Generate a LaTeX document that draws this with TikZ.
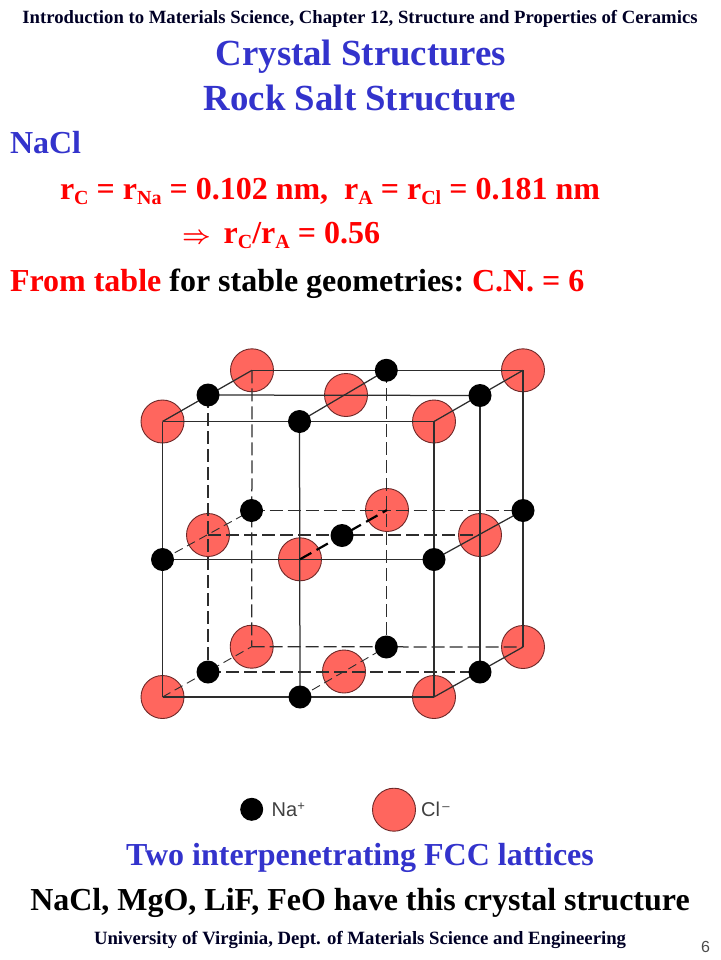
\documentclass[tikz,border=0pt]{standalone}
\usepackage{fontspec}
\setmainfont{Liberation Serif}
\newfontfamily\legendfont{Liberation Sans}
\pgfdeclarelayer{paper}
\pgfdeclarelayer{atomsback}
\pgfdeclarelayer{atomsfront}
\pgfsetlayers{paper,atomsback,main,atomsfront}
\definecolor{ttblue}{RGB}{51,51,204}
\definecolor{ttred}{RGB}{255,0,0}
\definecolor{clfill}{RGB}{255,102,94}
\definecolor{cledge}{RGB}{110,40,40}
\definecolor{bond}{RGB}{45,45,45}
\newcommand{\fs}[1]{\fontsize{#1}{#1}\selectfont\bfseries}
\newcommand{\sbs}[1]{\raisebox{-5.5pt}{\fontsize{20}{20}\selectfont #1}}
\tikzset{
  cl/.style={circle,draw=cledge,line width=0.9pt,fill=clfill,minimum size=43pt,inner sep=0pt},
  na/.style={circle,fill=black,minimum size=23pt,inner sep=0pt},
  solidbond/.style={bond,line width=1.25pt},
  dashbond/.style={bond,line width=1.25pt,dash pattern=on 13pt off 5pt},
  thinbond/.style={bond,line width=0.9pt,dash pattern=on 9pt off 5pt},
  heavybond/.style={black,line width=2.2pt,dash pattern=on 13pt off 6pt},
  txt/.style={anchor=base west,inner sep=0pt,outer sep=0pt},
  ctxt/.style={anchor=base,inner sep=0pt,outer sep=0pt},
  lgd/.style={anchor=base west,inner sep=0pt,font=\legendfont\fontsize{20}{20}\selectfont,text=black!75}
}
\begin{document}
\begin{tikzpicture}[x=1pt,y=-1pt]
\useasboundingbox (0,0) rectangle (720,960);
\begin{pgfonlayer}{paper}
\fill[white] (0,0) rectangle (720,960);
\end{pgfonlayer}
% texts
\node[ctxt,text=black!85!blue] (hd) at (360,24) {\fs{18.7}Introduction to Materials Science, Chapter 12, Structure and Properties of Ceramics};
\node[ctxt,text=ttblue] (t1) at (361,66) {\fs{36.8}Crystal Structures};
\node[ctxt,text=ttblue] (t2) at (360,111) {\fs{36.8}Rock Salt Structure};
\node[txt,text=ttblue] (l1) at (10,154) {\fs{32}NaCl};
\node[txt,text=ttred] (l2) at (60,199) {\fs{32}r\sbs{C} = r\sbs{Na} = 0.102 nm,\ \ r\sbs{A} = r\sbs{Cl} = 0.181 nm};
\node[txt,text=ttred] (l3) at (182,243) {\fs{32}{\fontsize{27}{27}\selectfont\mathversion{bold}$\Rightarrow$}\hspace{5pt} r\sbs{C}/r\sbs{A} = 0.56};
\node[txt] (l4) at (10,291) {\fs{32}\textcolor{ttred}{From table} for stable geometries:\hspace{-3pt} \textcolor{ttred}{C.N. = 6}};
\node[ctxt,text=ttblue] (b1) at (360,865) {\fs{32}Two interpenetrating FCC lattices};
\node[ctxt,text=black] (b2) at (360,910) {\fs{32}NaCl, MgO, LiF, FeO have this crystal structure};
\node[txt,text=black!85!blue] (b3) at (94,944) {\fs{18.75}University of Virginia, Dept. of Materials Science and Engineering};
\node[txt,text=black!70] (pg) at (701,952) {\legendfont\fontsize{16}{16}\selectfont 6};
% chlorine
\begin{pgfonlayer}{atomsback}
\node[cl] (c1) at (162.5,421.5) {};
\node[cl] (c2) at (252,370.3) {};
\node[cl] (c3) at (346,395) {};
\node[cl] (c4) at (434,421.5) {};
\node[cl] (c5) at (523,370.3) {};
\node[cl] (c6) at (208,535) {};
\node[cl] (c7) at (387,510) {};
\node[cl] (c8) at (300,559.3) {};
\node[cl] (c9) at (480,535) {};
\node[cl] (c10) at (251.7,646.7) {};
\node[cl] (c11) at (344,671.5) {};
\node[cl] (c12) at (523,647) {};
\node[cl] (c13) at (162.5,697) {};
\node[cl] (c14) at (434,697) {};
\node[cl] (lc) at (394,809.7) {};
\end{pgfonlayer}
% sodium
\begin{pgfonlayer}{atomsfront}
\node[na] (n1) at (208,395) {};
\node[na] (n2) at (386.3,370.3) {};
\node[na] (n3) at (299.5,421.5) {};
\node[na] (n4) at (480,395.5) {};
\node[na] (n5) at (251.5,510.5) {};
\node[na] (n6) at (162.5,559.5) {};
\node[na] (n7) at (342,535.5) {};
\node[na] (n8) at (434,559.5) {};
\node[na] (n9) at (523,510.5) {};
\node[na] (n10) at (208,672) {};
\node[na] (n11) at (386.3,647) {};
\node[na] (n12) at (480,672) {};
\node[na] (n13) at (300,697) {};
\node[na] (ln) at (251.7,809.3) {};
\end{pgfonlayer}
% solid
\foreach \a/\b in {c2/c5,n1/n4,c1/c4,c1/c13,n3/n13,c4/c14,c1/c2,n3/n2,c4/c5,n6/n8,n8/n9,c13/c14,c14/c12,n4/n12,c5/c12}
  \draw[solidbond] (\a.center) -- (\b.center);
% dashed
\foreach \a/\b in {n1/n10,c2/c10,n2/n11,n5/n9,c6/c9,c10/c12,n10/n12}
  \draw[dashbond] (\a.center) -- (\b.center);
\foreach \a/\b in {n6/n5,c13/c10,n13/n11}
  \draw[thinbond] (\a.center) -- (\b.center);
\draw[heavybond] (c8.center) -- (c7.center);
% legend
\node[lgd] (lna) at (271.5,816) {Na\raisebox{6pt}{\fontsize{13}{13}\selectfont +}};
\node[lgd] (lcl) at (421,816) {Cl\raisebox{6pt}{\fontsize{13}{13}\selectfont\,–}};
\end{tikzpicture}
\end{document}
